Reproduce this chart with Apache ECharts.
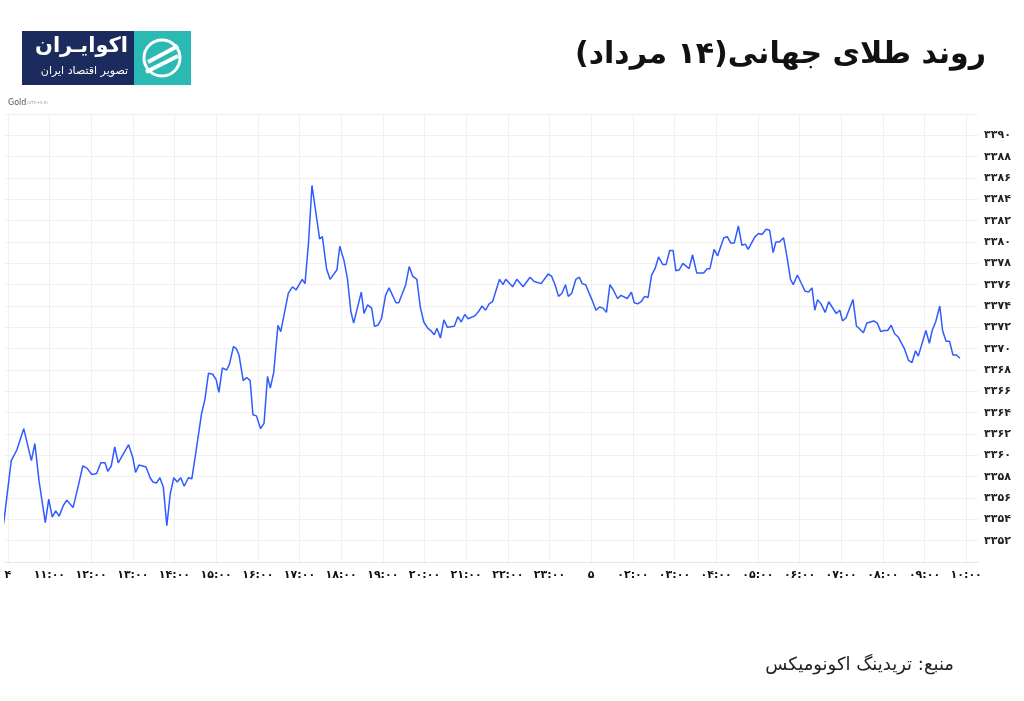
<!DOCTYPE html>
<html><head><meta charset="utf-8">
<script src="https://cdn.jsdelivr.net/npm/echarts@6/dist/echarts.min.js"></script>
<style>html,body{margin:0;padding:0;background:#fff}#c{width:1024px;height:701px}</style>
</head><body><div id="c"></div>
<script>
// minutes after 10:00 on day 4
const times = [-6,5,13,23,34,39,45,54,59,64,69,74,80,85,94,101,108,114,121,128,134,140,144,149,154,159,174,180,184,189,199,205,209,214,219,224,229,234,239,244,249,254,260,265,272,279,284,289,295,300,304,309,315,319,325,329,333,339,344,349,353,358,364,369,374,378,383,389,393,404,410,415,424,428,433,438,449,453,459,464,474,478,484,489,494,498,509,513,518,524,528,533,538,544,549,559,563,573,578,583,589,594,599,605,609,614,618,623,628,633,643,648,653,658,663,673,678,683,688,693,698,708,713,717,727,733,742,752,758,768,778,783,788,793,798,803,807,812,818,823,827,832,841,847,852,857,862,867,872,878,883,892,898,902,907,912,917,922,927,932,937,943,948,953,958,962,967,972,981,986,992,1002,1007,1011,1017,1022,1031,1036,1041,1046,1052,1057,1062,1066,1076,1081,1086,1092,1097,1102,1106,1111,1117,1122,1127,1131,1137,1142,1148,1153,1158,1162,1166,1171,1177,1182,1193,1198,1202,1207,1217,1222,1226,1232,1237,1247,1252,1257,1262,1267,1272,1277,1282,1291,1297,1302,1307,1311,1322,1327,1331,1336,1342,1346,1351,1356,1361,1366,1371];
const prices = [3353.6,3359.5,3360.5,3362.5,3359.5,3361.1,3357.6,3353.7,3355.9,3354.2,3354.8,3354.3,3355.3,3355.8,3355.1,3357.0,3359.0,3358.8,3358.2,3358.3,3359.3,3359.3,3358.5,3359.0,3360.8,3359.3,3361.0,3359.8,3358.4,3359.1,3358.9,3357.9,3357.5,3357.4,3357.9,3357.0,3353.4,3356.4,3357.9,3357.5,3357.9,3357.1,3357.9,3357.8,3360.8,3363.9,3365.3,3367.7,3367.6,3367.1,3365.9,3368.2,3368.0,3368.5,3370.2,3370.0,3369.4,3367.0,3367.3,3367.0,3363.8,3363.7,3362.5,3363.0,3367.4,3366.3,3367.8,3372.2,3371.6,3375.2,3375.8,3375.5,3376.5,3376.1,3379.9,3385.3,3380.3,3380.5,3377.5,3376.5,3377.4,3379.6,3378.3,3376.6,3373.5,3372.4,3375.3,3373.3,3374.1,3373.8,3372.1,3372.2,3372.8,3375.0,3375.7,3374.3,3374.3,3376.0,3377.7,3376.8,3376.5,3373.9,3372.5,3371.9,3371.7,3371.3,3371.9,3371.0,3372.7,3372.0,3372.1,3373.0,3372.5,3373.2,3372.8,3373.1,3373.5,3374.0,3373.6,3374.2,3374.4,3376.5,3376.0,3376.5,3375.8,3376.5,3375.8,3376.7,3376.3,3376.1,3377.0,3376.8,3376.0,3374.9,3375.2,3376.0,3374.9,3375.2,3376.5,3376.7,3376.1,3376.0,3374.6,3373.6,3373.9,3373.8,3373.4,3376.0,3375.5,3374.7,3375.0,3374.7,3375.3,3374.3,3374.2,3374.4,3374.9,3374.8,3376.9,3377.5,3378.6,3377.9,3377.9,3379.2,3379.2,3377.3,3377.4,3378.0,3377.5,3378.8,3377.1,3377.1,3377.5,3377.5,3379.3,3378.7,3380.4,3380.5,3379.9,3379.9,3381.5,3379.7,3379.8,3379.3,3380.5,3380.8,3380.7,3381.2,3381.1,3379.0,3380.0,3380.0,3380.4,3378.6,3376.5,3376.0,3376.9,3376.2,3375.4,3375.3,3375.7,3373.6,3374.6,3374.2,3373.4,3374.4,3373.3,3373.6,3372.6,3372.9,3374.6,3372.1,3371.9,3371.5,3372.4,3372.6,3372.4,3371.6,3371.7,3371.7,3372.2,3371.4,3371.1,3370.0,3368.9,3368.7,3369.8,3369.3,3371.7,3370.5,3371.7,3372.5,3374.0,3371.7,3370.7,3370.7,3369.4,3369.4,3369.1];
const xTickValues = [0,60,120,180,240,300,360,420,480,540,600,660,720,780,840,900,960,1020,1080,1140,1200,1260,1320,1380];
const xLabels = ['۴','۱۱:۰۰','۱۲:۰۰','۱۳:۰۰','۱۴:۰۰','۱۵:۰۰','۱۶:۰۰','۱۷:۰۰','۱۸:۰۰','۱۹:۰۰','۲۰:۰۰','۲۱:۰۰','۲۲:۰۰','۲۳:۰۰','۵','۰۲:۰۰','۰۳:۰۰','۰۴:۰۰','۰۵:۰۰','۰۶:۰۰','۰۷:۰۰','۰۸:۰۰','۰۹:۰۰','۱۰:۰۰'];
const yMin = 3350, yMax = 3392, yStep = 2;
const title = 'روند طلای جهانی(۱۴ مرداد)';
const source = 'منبع: تریدینگ اکونومیکس';

const fa = s => String(s).replace(/\d/g, d => '۰۱۲۳۴۵۶۷۸۹'[d]);
const chart = echarts.init(document.getElementById('c'));
chart.setOption({
  animation:false,
  backgroundColor:'#fff',
  grid:{left:5,right:46,top:114,bottom:139},
  xAxis:{type:'value',min:-4,max:1397,
    axisLine:{show:true,lineStyle:{color:'#e6e6e6'}},
    axisTick:{show:false,customValues:xTickValues},
    splitLine:{show:true,lineStyle:{color:'#f0f0f0'}},
    axisLabel:{customValues:xTickValues,color:'#111',fontFamily:'DejaVu Sans',fontSize:11,fontWeight:'bold',margin:8,
      formatter:v=>xLabels[xTickValues.indexOf(v)]}},
  yAxis:{type:'value',position:'right',min:yMin,max:yMax,interval:yStep,
    axisLine:{show:false},axisTick:{show:false},
    splitLine:{show:true,lineStyle:{color:'#f0f0f0'}},
    axisLabel:{showMinLabel:false,showMaxLabel:false,color:'#222',fontFamily:'DejaVu Sans',fontSize:11,fontWeight:'bold',margin:6,formatter:v=>fa(v)}},
  series:[{type:'line',data:times.map((t,i)=>[t,prices[i]]),showSymbol:false,
    lineStyle:{color:'#2f5bff',width:1.5}}],
  graphic:[
    {type:'text',right:38,top:40,style:{text:title,font:'bold 30px "DejaVu Sans"',fill:'#111'}},
    {type:'text',right:70,top:656,style:{text:source,font:'18px "DejaVu Sans"',fill:'#222'}},
    {type:'text',left:8,top:99,style:{text:'Gold',font:'8px "DejaVu Sans"',fill:'#555'}},
    {type:'text',left:27,top:101,style:{text:'(UTC+3.5)',font:'4px "DejaVu Sans"',fill:'#999'}},
    {type:'rect',shape:{x:22,y:31,width:112,height:54},style:{fill:'#1c2b5e'}},
    {type:'rect',shape:{x:134,y:31,width:57,height:54},style:{fill:'#2bbab3'}},
    {type:'text',x:128,y:36,style:{text:'اکوایـران',font:'bold 21px "DejaVu Sans"',fill:'#fff',align:'right'}},
    {type:'text',x:128,y:66,style:{text:'تصویر اقتصاد ایران',font:'11px "DejaVu Sans"',fill:'#fff',align:'right'}},
    {type:'circle',shape:{cx:162,cy:58,r:18},style:{fill:'none',stroke:'#fff',lineWidth:3}},
    {type:'line',shape:{x1:148,y1:62,x2:178,y2:46},style:{stroke:'#fff',lineWidth:4}},
    {type:'line',shape:{x1:146,y1:72,x2:178,y2:56},style:{stroke:'#fff',lineWidth:4}}
  ]
});
</script></body></html>
